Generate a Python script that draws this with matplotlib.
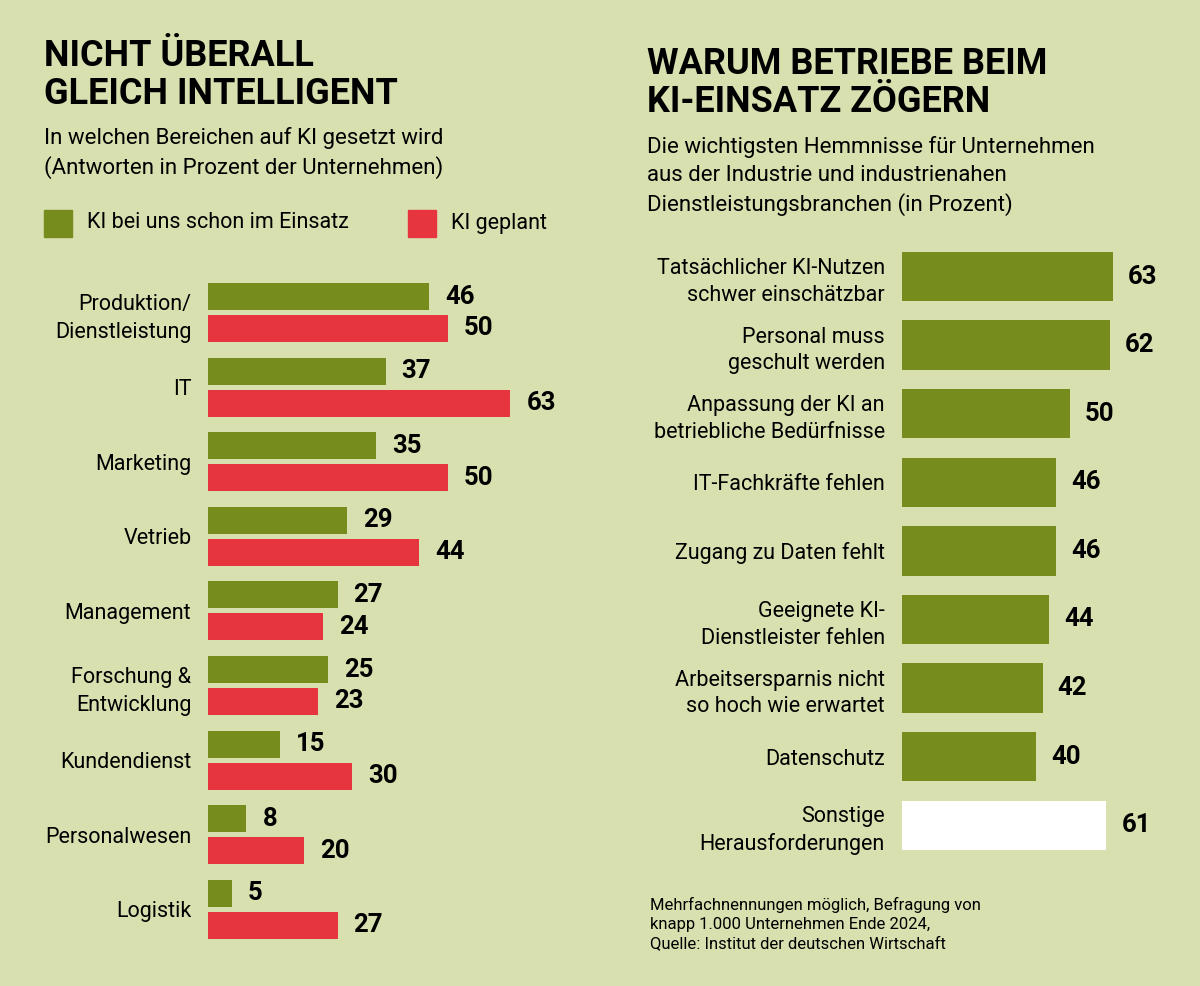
import matplotlib.pyplot as plt

# ---- data ----
areas = ["Produktion/\nDienstleistung", "IT", "Marketing", "Vetrieb", "Management",
         "Forschung &\nEntwicklung", "Kundendienst", "Personalwesen", "Logistik"]
in_use = [46, 37, 35, 29, 27, 25, 15, 8, 5]
planned = [50, 63, 50, 44, 24, 23, 30, 20, 27]

obstacles = ["Tatsächlicher KI-Nutzen\nschwer einschätzbar", "Personal muss\ngeschult werden",
             "Anpassung der KI an\nbetriebliche Bedürfnisse", "IT-Fachkräfte fehlen",
             "Zugang zu Daten fehlt", "Geeignete KI-\nDienstleister fehlen",
             "Arbeitsersparnis nicht\nso hoch wie erwartet", "Datenschutz",
             "Sonstige\nHerausforderungen"]
obstacle_pct = [63, 62, 50, 46, 46, 44, 42, 40, 61]

BG = "#d9e0b0"
GREEN = "#768c1d"
RED = "#e73540"
W, H = 1200, 986

plt.rcParams["font.family"] = ["Roboto", "DejaVu Sans"]

fig = plt.figure(figsize=(W / 100, H / 100), dpi=100)
fig.patch.set_facecolor(BG)


def px_axes(left, top, right, bottom):
    return fig.add_axes([left / W, 1 - bottom / H, (right - left) / W, (bottom - top) / H])


def clean(ax):
    ax.set_facecolor("none")
    for s in ax.spines.values():
        s.set_visible(False)
    ax.tick_params(axis="x", bottom=False, labelbottom=False)
    ax.tick_params(axis="y", length=0)


# ---- left chart ----
ax1 = px_axes(208, 312.5 - 0.6 * 74.6, 208 + 4.8 * 75, 312.5 + 8.6 * 74.6)
clean(ax1)
ys = list(range(len(areas)))
ax1.barh([y - 0.214 for y in ys], in_use, height=0.362, color=GREEN)
ax1.barh([y + 0.214 for y in ys], planned, height=0.362, color=RED)
for y, a, b in zip(ys, in_use, planned):
    ax1.annotate(str(a), (a, y - 0.214), xytext=(16, 0), textcoords="offset pixels",
                 va="center", ha="left", fontsize=18.5, fontweight="bold")
    ax1.annotate(str(b), (b, y + 0.214), xytext=(16, 0), textcoords="offset pixels",
                 va="center", ha="left", fontsize=18.5, fontweight="bold")
ax1.set_xlim(0, 75)
ax1.set_ylim(8.6, -0.6)
ax1.set_yticks(ys)
ax1.set_yticklabels(areas, fontsize=15.5, linespacing=1.45)
ax1.tick_params(axis="y", pad=12)

# ---- right chart ----
ax2 = px_axes(902, 276.5 - 0.6 * 68.6, 902 + 3.35 * 85, 276.5 + 8.6 * 68.6)
clean(ax2)
ys2 = list(range(len(obstacles)))
colors2 = [GREEN] * (len(obstacles) - 1) + ["white"]
ax2.barh(ys2, obstacle_pct, height=0.72, color=colors2)
for y, v in zip(ys2, obstacle_pct):
    ax2.annotate(str(v), (v, y), xytext=(15, 0), textcoords="offset pixels",
                 va="center", ha="left", fontsize=18.5, fontweight="bold")
ax2.set_xlim(0, 85)
ax2.set_ylim(8.6, -0.6)
ax2.set_yticks(ys2)
ax2.set_yticklabels(obstacles, fontsize=15.5, linespacing=1.35)
ax2.tick_params(axis="y", pad=12.5)


# ---- texts ----
def txt(x, y, s, **kw):
    fig.text(x / W, 1 - y / H, s, **kw)


txt(44, 75, "NICHT ÜBERALL\nGLEICH INTELLIGENT", fontsize=26, fontweight="bold",
    va="center", ha="left", linespacing=1.04)
txt(44, 153, "In welchen Bereichen auf KI gesetzt wird\n(Antworten in Prozent der Unternehmen)",
    fontsize=16, va="center", ha="left", linespacing=1.37)

txt(647, 83, "WARUM BETRIEBE BEIM\nKI-EINSATZ ZÖGERN", fontsize=26, fontweight="bold",
    va="center", ha="left", linespacing=1.04)
txt(647, 176, "Die wichtigsten Hemmnisse für Unternehmen\naus der Industrie und industrienahen\n"
              "Dienstleistungsbranchen (in Prozent)",
    fontsize=16, va="center", ha="left", linespacing=1.4)

# legend
fig.patches.append(plt.Rectangle((44 / W, 1 - 237 / H), 28 / W, 27 / H,
                                 transform=fig.transFigure, color=GREEN))
fig.patches.append(plt.Rectangle((408 / W, 1 - 237 / H), 28 / W, 27 / H,
                                 transform=fig.transFigure, color=RED))
txt(87, 223, "KI bei uns schon im Einsatz", fontsize=15.5, va="center", ha="left")
txt(451, 223, "KI geplant", fontsize=15.5, va="center", ha="left")

txt(650, 924, "Mehrfachnennungen möglich, Befragung von\nknapp 1.000 Unternehmen Ende 2024,\n"
              "Quelle: Institut der deutschen Wirtschaft",
    fontsize=12, va="center", ha="left", linespacing=1.37)

fig.savefig("out.png", dpi=100, facecolor=BG)
